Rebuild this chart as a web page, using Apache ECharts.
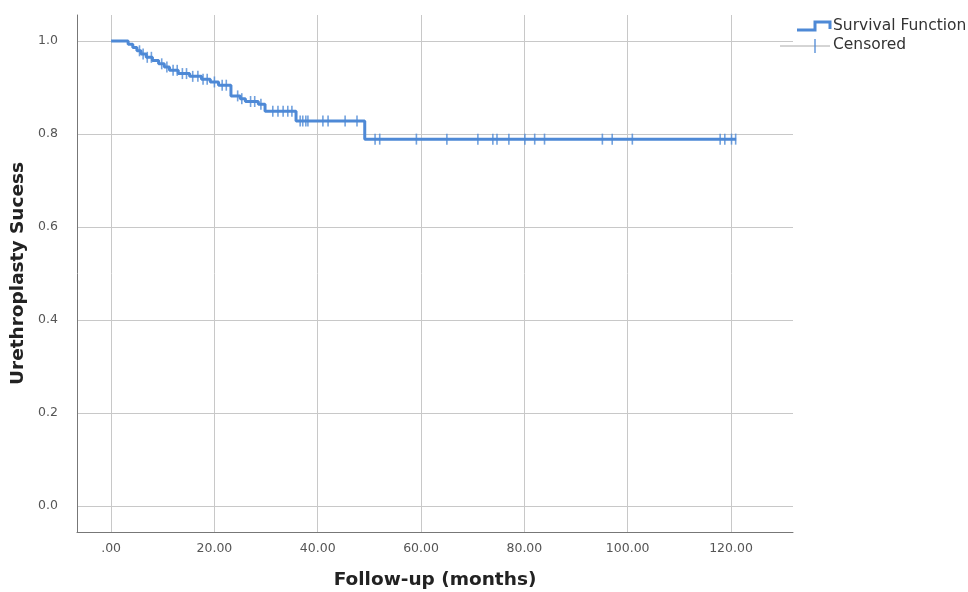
<!DOCTYPE html>
<html>
<head>
<meta charset="utf-8">
<style>html,body{margin:0;padding:0;background:#fff;}#c{width:968px;height:592px;}</style>
<script src="https://cdn.jsdelivr.net/npm/echarts@6/dist/echarts.min.js"></script>
</head>
<body>
<div id="c"></div>
<script>
const xTicks = [0, 20, 40, 60, 80, 100, 120];
const yTicks = [0, 0.2, 0.4, 0.6, 0.8, 1.0];
const eventTimes = [0, 3.3, 4.2, 5.0, 5.8, 6.8, 8.0, 9.2, 10.3, 11.3, 13.0, 15.2, 17.5, 19.2, 20.8, 23.2, 25.0, 26.0, 28.5, 29.8, 35.8, 49.1];
const survival = [1.0, 0.993, 0.986, 0.979, 0.972, 0.965, 0.958, 0.951, 0.944, 0.937, 0.930, 0.924, 0.918, 0.912, 0.905, 0.882, 0.876, 0.870, 0.864, 0.849, 0.828, 0.789];
const lastFollowUp = 121.0;
const censorTimes = [5.5, 6.2, 7.0, 7.8, 9.8, 10.8, 12.0, 12.8, 13.8, 14.6, 15.8, 16.8, 17.8, 18.6, 20.0, 21.5, 22.3, 24.5, 25.3, 27.0, 27.8, 29.0, 31.3, 32.3, 33.3, 34.2, 35.0, 36.6, 37.1, 37.7, 38.1, 41.0, 42.0, 45.3, 47.6, 51.1, 52.0, 59.1, 65.0, 71.0, 73.9, 74.7, 77.0, 80.1, 82.0, 83.9, 95.1, 97.0, 100.9, 117.9, 118.8, 120.1, 120.9];

const blue = '#4e89d6';
function survAt(t) {
  let s = survival[0];
  for (let i = 0; i < eventTimes.length; i++) { if (eventTimes[i] <= t) s = survival[i]; }
  return s;
}
const lineData = eventTimes.map((t, i) => [t, survival[i]]);
lineData.push([lastFollowUp, survival[survival.length - 1]]);
const censorData = censorTimes.map(t => [t, survAt(t)]);

const chart = echarts.init(document.getElementById('c'), null, {renderer: 'canvas'});
const font = 'DejaVu Sans';
chart.setOption({
  animation: false,
  backgroundColor: '#fff',
  grid: {left: 77, right: 175, top: 15, bottom: 60, containLabel: false, outerBoundsMode: 'none'},
  xAxis: {
    type: 'value', min: -6.6, max: 132,
    name: 'Follow-up (months)', nameLocation: 'middle', nameGap: 39,
    nameTextStyle: {fontFamily: font, fontSize: 18.5, fontWeight: 'bold', color: '#222'},
    axisLine: {show: true, onZero: false, lineStyle: {color: '#777', width: 1}},
    axisTick: {show: false, customValues: xTicks},
    axisLabel: {customValues: xTicks, margin: 10, fontFamily: font, fontSize: 12.5, color: '#555',
      formatter: v => v === 0 ? '.00' : v.toFixed(2)},
    splitLine: {show: true, lineStyle: {color: '#c8c8c8', width: 1}}
  },
  yAxis: {
    type: 'value', min: -0.056, max: 1.056,
    name: 'Urethroplasty Sucess', nameLocation: 'middle', nameGap: 44,
    nameTextStyle: {fontFamily: font, fontSize: 18.5, fontWeight: 'bold', color: '#222'},
    axisLine: {show: true, onZero: false, lineStyle: {color: '#777', width: 1}},
    axisTick: {show: false, customValues: yTicks},
    axisLabel: {customValues: yTicks, margin: 19, fontFamily: font, fontSize: 12.5, color: '#555',
      formatter: v => v.toFixed(1)},
    splitLine: {show: true, lineStyle: {color: '#c8c8c8', width: 1}}
  },
  series: [
    {type: 'line', name: 'Survival Function', step: 'end', data: lineData, showSymbol: false,
     lineStyle: {color: blue, width: 3}, z: 3},
    {type: 'scatter', name: 'Censored', data: censorData, symbol: 'rect', symbolSize: [1.6, 11],
     itemStyle: {color: blue}, z: 4}
  ],
  graphic: [
    {type: 'polyline', shape: {points: [[797, 30], [815, 30], [815, 22], [830, 22], [830, 29]]},
     style: {stroke: blue, lineWidth: 3, fill: null}},
    {type: 'text', left: 833, top: 18, style: {text: 'Survival Function', fontFamily: font, fontSize: 15.5, fill: '#333'}},
    {type: 'line', shape: {x1: 780, y1: 46, x2: 830, y2: 46}, style: {stroke: '#aaa', lineWidth: 1}},
    {type: 'line', shape: {x1: 815, y1: 39, x2: 815, y2: 53}, style: {stroke: blue, lineWidth: 1.3}},
    {type: 'text', left: 833, top: 37, style: {text: 'Censored', fontFamily: font, fontSize: 15.5, fill: '#333'}}
  ]
});
</script>
</body>
</html>
